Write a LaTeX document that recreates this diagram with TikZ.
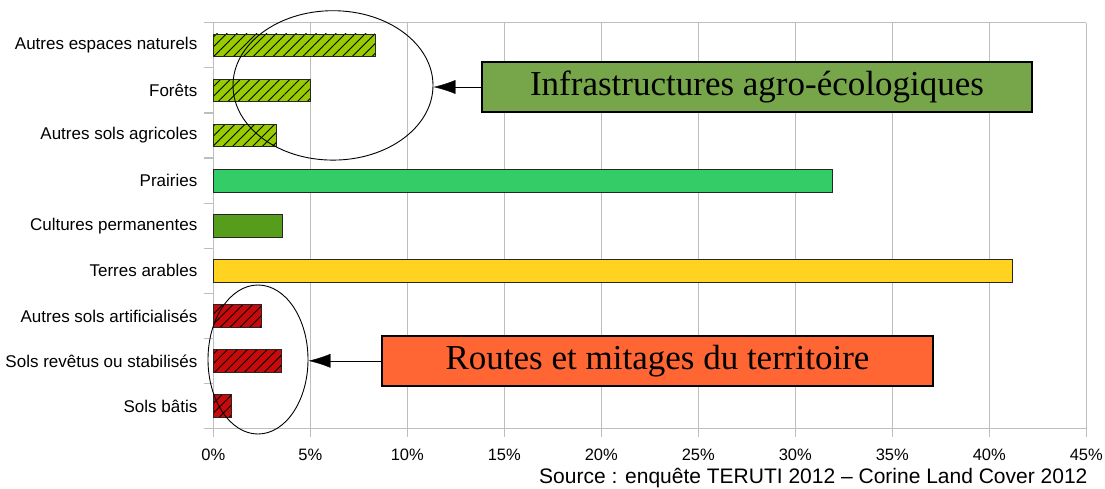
\documentclass[tikz,border=0pt]{standalone}
\usepackage{fontspec}
\setmainfont{Liberation Sans}
\newfontfamily\boxserif{Liberation Serif}
\usetikzlibrary{arrows.meta}
\usetikzlibrary{patterns.meta}
\usetikzlibrary{shapes.geometric}
\definecolor{hgreen}{RGB}{153,204,0}
\definecolor{hred}{RGB}{200,10,10}
\definecolor{prairie}{RGB}{52,204,102}
\definecolor{vigne}{RGB}{87,157,28}
\definecolor{arable}{RGB}{255,211,32}
\definecolor{olive}{RGB}{119,166,74}
\definecolor{morange}{RGB}{255,102,51}
\definecolor{grille}{RGB}{190,190,190}
\tikzset{bar/.style = {draw=black!85, line width=0.8}}
\tikzset{hatch/.style = {postaction={pattern color=black, pattern={Lines[angle=45,distance=7pt,line width=0.9pt]}},
    postaction={draw=black!85, line width=0.8}}}
\tikzset{greenhatch/.style = {bar, fill=hgreen, hatch}, redhatch/.style = {bar, fill=hred, hatch}}
\tikzset{prairiebar/.style = {bar, fill=prairie}, vignebar/.style = {bar, fill=vigne}, arablebar/.style = {bar, fill=arable}}
\tikzset{cat/.style = {inner sep = 0, anchor = east, font = \fontsize{17}{18}\selectfont}}
\tikzset{zone/.style = {draw, ellipse, inner sep = 0, line width = 0.9}}
\tikzset{annot/.style = {draw, line width = 2.2, inner sep = 0, minimum height = 50,
    font = \boxserif\fontsize{35}{36}\selectfont}}

\begin{document}
\begin{tikzpicture}[x=1pt, y=-1pt, font=\fontsize{16.5}{18}\selectfont]
      \useasboundingbox (0, 0) rectangle (1105, 488);

      % grille et axes
      \foreach \p in {0,5,...,45} {
        \draw [grille, line width = 1.2] (213.3+19.4*\p, 22.7) -- (213.3+19.4*\p, 437);
        \node (tick\p) at (213.3+19.4*\p, 455) {\p\%};
      }
      \draw [grille, line width = 1.2] (213.3, 22.7) -- (1086, 22.7);
      \draw [grille, line width = 1.2] (204, 428.6) -- (1086, 428.6);
      \foreach \k in {0,...,8} {
        \draw [grille, line width = 1.2] (204, 22.7+45.1*\k) -- (213.3, 22.7+45.1*\k);
      }

      % barres
      \foreach \i/\lab/\val/\sty in {1/Autres espaces naturels/8.33/greenhatch,
          2/Forêts/5.0/greenhatch, 3/Autres sols agricoles/3.23/greenhatch,
          4/Prairies/31.9/prairiebar, 5/Cultures permanentes/3.54/vignebar,
          6/Terres arables/41.2/arablebar, 7/Autres sols artificialisés/2.47/redhatch,
          8/Sols revêtus ou stabilisés/3.5/redhatch, 9/Sols bâtis/0.95/redhatch} {
        \pgfmathsetmacro\yc{22.7+45.1*(\i-0.5)}
        \draw [\sty] (213.3, \yc-11.35) rectangle (213.3+19.4*\val, \yc+11.35);
        \node [cat] (cat\i) at (197.5, \yc) {\lab};
      }

      % annotations
      \node [zone, minimum width = 200, minimum height = 149.4] (agro) at (333, 85.4) {};
      \node [zone, minimum width = 100, minimum height = 149] (mitage) at (258, 359.5) {};
      \node [annot, fill = olive, minimum width = 550] (infra) at (757, 87) {Infrastructures agro-écologiques};
      \node [annot, fill = morange, minimum width = 551] (routes) at (657.5, 360.8) {Routes et mitages du territoire};
      \draw [-{Latex[length=22pt, width=14pt]}] (infra.west) -- (infra.west -| agro.east);
      \draw [-{Latex[length=22pt, width=14pt]}] (routes.west) -- (routes.west -| mitage.east);

      \node [anchor = east, font = \fontsize{21}{22}\selectfont] (source) at (1091, 478)
        {Source : enquête TERUTI 2012 – Corine Land Cover 2012};
\end{tikzpicture}
\end{document}
